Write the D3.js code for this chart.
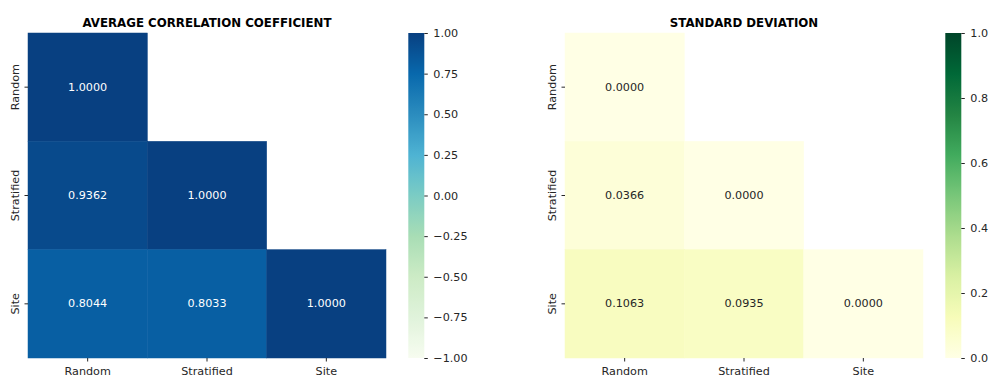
<!DOCTYPE html>
<html>
<head>
<meta charset="utf-8">
<script src="https://cdn.jsdelivr.net/npm/d3@7"></script>
<style>
  html, body { margin: 0; padding: 0; background: #fff; }
  svg { display: block; font-family: "DejaVu Sans", sans-serif; }
</style>
</head>
<body>
<svg id="chart" width="989" height="377"></svg>
<script>
// Sampling strategies compared pairwise
const categories = ["Random", "Stratified", "Site"];

// Lower-triangle matrices (null = masked upper triangle)
const corrValues = [
  [1.0000, null, null],
  [0.9362, 1.0000, null],
  [0.8044, 0.8033, 1.0000]
];
const stdValues = [
  [0.0000, null, null],
  [0.0366, 0.0000, null],
  [0.1063, 0.0935, 0.0000]
];

const corrTicks = [1.00, 0.75, 0.50, 0.25, 0.00, -0.25, -0.50, -0.75, -1.00];
const stdTicks = [0.0, 0.2, 0.4, 0.6, 0.8, 1.0];

// ColorBrewer 9-class ramps, interpolated linearly
const gnbu = ["#f7fcf0","#e0f3db","#ccebc5","#a8ddb5","#7bccc4","#4eb3d3","#2b8cbe","#0868ac","#084081"];
const ylgn = ["#ffffe5","#f7fcb9","#d9f0a3","#addd8e","#78c679","#41ab5d","#238443","#006837","#004529"];

const FS = 11.2;      // tick / annotation font size
const TITLE_FS = 11.8;

function ramp(colors, lo, hi) {
  const dom = colors.map((c, i) => lo + (hi - lo) * i / (colors.length - 1));
  return d3.scaleLinear().domain(dom).range(colors).interpolate(d3.interpolateRgb).clamp(true);
}

const svg = d3.select("#chart");
const defs = svg.append("defs");

function luminance(col) {
  const c = d3.rgb(col);
  const f = v => { v /= 255; return v <= 0.03928 ? v / 12.92 : Math.pow((v + 0.055) / 1.055, 2.4); };
  return 0.2126 * f(c.r) + 0.7152 * f(c.g) + 0.0722 * f(c.b);
}

function panel(opts) {
  const { x0, x1, y0, y1, cbX, cbW, values, color, vmin, vmax, ticks, fmtTick, title, id } = opts;
  const g = svg.append("g");

  const x = d3.scaleBand().domain(categories).range([x0, x1]);
  const y = d3.scaleBand().domain(categories).range([y0, y1]);

  const cells = [];
  values.forEach((row, i) => row.forEach((v, j) => {
    if (v !== null) cells.push({ r: categories[i], c: categories[j], v });
  }));

  g.selectAll("rect.cell").data(cells).join("rect")
    .attr("class", "cell")
    .attr("x", d => x(d.c))
    .attr("y", d => y(d.r))
    .attr("width", x.bandwidth())
    .attr("height", y.bandwidth())
    .attr("fill", d => color(d.v))
    .attr("stroke", d => color(d.v))
    .attr("stroke-width", 0.5);

  g.selectAll("text.annot").data(cells).join("text")
    .attr("class", "annot")
    .attr("x", d => x(d.c) + x.bandwidth() / 2)
    .attr("y", d => y(d.r) + y.bandwidth() / 2)
    .attr("text-anchor", "middle")
    .attr("dominant-baseline", "central")
    .attr("font-size", FS)
    .attr("fill", d => luminance(color(d.v)) > 0.408 ? "#262626" : "#ffffff")
    .text(d => d.v.toFixed(4));

  // Title
  g.append("text")
    .attr("x", (x0 + x1) / 2)
    .attr("y", y0 - 6.5)
    .attr("text-anchor", "middle")
    .attr("font-size", TITLE_FS)
    .attr("font-weight", "bold")
    .attr("fill", "#000")
    .text(title);

  // X axis
  const xa = g.append("g").attr("transform", `translate(0,${y1})`)
    .call(d3.axisBottom(x).tickSize(3.5).tickPadding(5.5));
  xa.select(".domain").remove();
  xa.selectAll("line").attr("stroke", "#262626");
  xa.selectAll("text").attr("font-size", FS).attr("fill", "#262626").attr("font-family", "DejaVu Sans, sans-serif");

  // Y axis with rotated labels
  const ya = g.append("g").attr("transform", `translate(${x0},0)`)
    .call(d3.axisLeft(y).tickSize(3.5));
  ya.select(".domain").remove();
  ya.selectAll("line").attr("stroke", "#262626");
  ya.selectAll("text")
    .attr("font-size", FS).attr("fill", "#262626").attr("font-family", "DejaVu Sans, sans-serif")
    .attr("x", null).attr("dy", null)
    .attr("text-anchor", "middle")
    .attr("transform", "translate(-9.5,0) rotate(-90)");

  // Colorbar
  const cbScale = d3.scaleLinear().domain([vmin, vmax]).range([y1, y0]);
  const grad = defs.append("linearGradient").attr("id", id)
    .attr("x1", 0).attr("y1", 1).attr("x2", 0).attr("y2", 0);
  d3.range(0, 1.0001, 1 / 64).forEach(t => {
    grad.append("stop").attr("offset", t).attr("stop-color", color(vmin + (vmax - vmin) * t));
  });
  g.append("rect")
    .attr("x", cbX).attr("y", y0)
    .attr("width", cbW).attr("height", y1 - y0)
    .attr("fill", `url(#${id})`);

  const ca = g.append("g").attr("transform", `translate(${cbX + cbW},0)`)
    .call(d3.axisRight(cbScale).tickValues(ticks).tickFormat(fmtTick).tickSize(3.5).tickPadding(5.5));
  ca.select(".domain").remove();
  ca.selectAll("line").attr("stroke", "#262626");
  ca.selectAll("text").attr("font-size", FS).attr("fill", "#262626").attr("font-family", "DejaVu Sans, sans-serif");
}

const minusFmt = f => v => d3.format(f)(v).replace("-", "\u2212");

panel({
  id: "gradCorr", x0: 28, x1: 386, y0: 33, y1: 358, cbX: 408.3, cbW: 16,
  values: corrValues, color: ramp(gnbu, -1, 1), vmin: -1, vmax: 1,
  ticks: corrTicks, fmtTick: minusFmt(".2f"), title: "AVERAGE CORRELATION COEFFICIENT"
});

panel({
  id: "gradStd", x0: 565, x1: 923, y0: 33, y1: 358, cbX: 945.3, cbW: 16,
  values: stdValues, color: ramp(ylgn, 0, 1), vmin: 0, vmax: 1,
  ticks: stdTicks, fmtTick: minusFmt(".1f"), title: "STANDARD DEVIATION"
});
</script>
</body>
</html>
